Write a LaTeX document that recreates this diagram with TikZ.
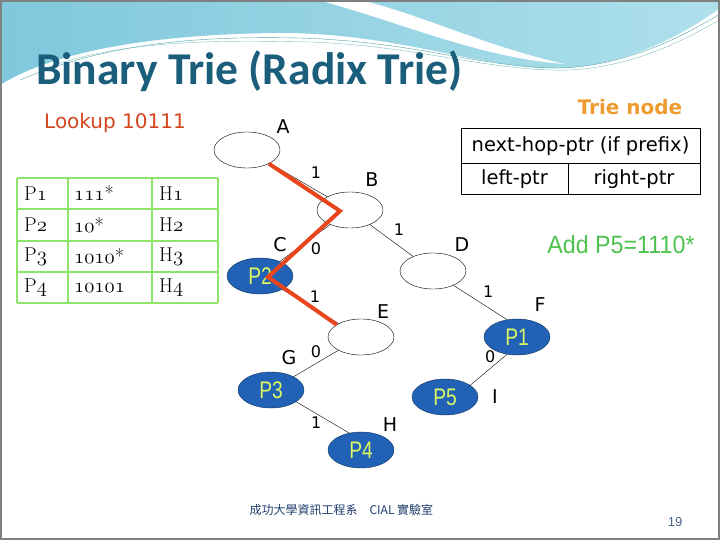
\documentclass[tikz,border=0pt]{standalone}
\usepackage{fontspec}
\usepackage{tikz}
\usetikzlibrary{shapes.geometric}

\newfontfamily\comic{DejaVu Sans}
\newfontfamily\arialf{Liberation Sans}
\newfontfamily\narrowf[FakeStretch=0.8]{Liberation Sans}
\newfontfamily\addf[FakeStretch=0.93]{Liberation Sans}
\newfontfamily\titlef{Carlito}
\newfontfamily\cjk{Noto Sans CJK TC}
\newcommand{\osf}[1]{$\mathnormal{#1}$}

\definecolor{titleblue}{HTML}{1B5E7B}
\definecolor{nodeblue}{HTML}{2262B6}
\definecolor{nodetext}{HTML}{DCF862}
\definecolor{pathred}{HTML}{E8451C}
\definecolor{gridgreen}{HTML}{8CE46C}
\definecolor{trieorange}{HTML}{EE9C30}
\definecolor{addgreen}{HTML}{4EC24E}
\definecolor{lookred}{HTML}{D4461E}
\definecolor{skyA}{HTML}{80C8DC}
\definecolor{skyB}{HTML}{AEE0EC}
\definecolor{footblue}{HTML}{1F3F6E}

\begin{document}
\begin{tikzpicture}[x=1pt,y=-1pt,
    trienode/.style={ellipse,draw,thin,minimum width=66pt,minimum height=36pt,inner sep=0pt},
    prefixnode/.style={trienode,draw=nodeblue!50!black,fill=nodeblue,text=nodetext,
                   font=\narrowf\fontsize{24}{24}\selectfont},
    letter/.style={font=\comic\fontsize{19}{19}\selectfont},
    bit/.style={font=\comic\fontsize{16}{16}\selectfont,inner sep=1pt},
    cell/.style={anchor=west,font=\fontsize{20}{20}\selectfont,inner sep=0pt},
    boxtext/.style={font=\comic\fontsize{19.5}{19.5}\selectfont},
    redpath/.style={pathred,line width=4pt}]

  % slide background
  \useasboundingbox (0,0) rectangle (720,540);
  \fill[white] (0,0) rectangle (720,540);
  \shade[left color=skyA,right color=skyB] (0,0) -- (720,0) -- (720,8)
      .. controls (690,30) and (630,66) .. (560,68)
      .. controls (480,70) and (400,32) .. (275,33)
      .. controls (120,35) and (40,60) .. (0,85) -- cycle;
  \fill[white] (318,0) .. controls (400,22) and (480,58) .. (565,64)
      .. controls (490,48) and (420,14) .. (360,0) -- cycle;
  \draw[teal!70,thin] (20,80) .. controls (110,42) and (200,36) .. (300,38)
      .. controls (420,42) and (480,68) .. (560,68) .. controls (630,66) and (690,32) .. (720,14);
  \draw[teal!50,thin] (40,70) .. controls (120,40) and (210,40) .. (310,42)
      .. controls (420,46) and (490,72) .. (570,70) .. controls (640,66) and (690,36) .. (720,20);
  \draw[gray,line width=1.5pt] (1,1) rectangle (719,539);

  \node[anchor=base west,inner sep=0pt,text=titleblue,
        font=\titlef\bfseries\fontsize{45.5}{45.5}\selectfont] (title) at (36,85) {Binary Trie (Radix Trie)};
  \node[font=\comic\fontsize{20}{20}\selectfont,text=lookred] (lookup) at (115,123) {Lookup 10111};

  % prefix table
  \foreach \y in {178,209,241,272,303}
    \draw[gridgreen,line width=2pt] (17,\y) -- (218,\y);
  \foreach \x in {17,68,152,218}
    \draw[gridgreen,line width=2pt] (\x,178) -- (\x,303);
  \foreach \p/\q/\h [count=\i] in {P\osf{1}/\osf{111}*/H\osf{1},
                                   P\osf{2}/\osf{10}*/H\osf{2},
                                   P\osf{3}/\osf{1010}*/H\osf{3},
                                   P\osf{4}/\osf{10101}/H\osf{4}}{
    \node[cell] (p\i) at (24,162+31.5*\i) {\p};
    \node[cell] (q\i) at (74,162+31.5*\i) {\q};
    \node[cell] (h\i) at (159,162+31.5*\i) {\h};
  }

  % trie node layout
  \node[font=\comic\bfseries\fontsize{20}{20}\selectfont,text=trieorange] (trielabel) at (630,107) {Trie node};
  \draw[thin] (461,128) rectangle (700,194);
  \draw[thin] (461,163) -- (700,163) (568,163) -- (568,194);
  \node[boxtext] (nexthop) at (580.5,146) {next-hop-ptr (if prefix)};
  \node[boxtext] (leftptr) at (514.5,179) {left-ptr};
  \node[boxtext] (rightptr) at (634,179) {right-ptr};

  \node[font=\addf\fontsize{25}{25}\selectfont,text=addgreen] (addp5) at (621,245) {Add P5=1110*};

  % the trie
  \node[trienode]   (A) at (247,150) {};
  \node[trienode]   (B) at (350,210) {};
  \node[prefixnode] (C) at (260,276) {P2};
  \node[trienode]   (D) at (433,271) {};
  \node[trienode]   (E) at (361,337) {};
  \node[prefixnode] (F) at (517,337) {P1};
  \node[prefixnode] (G) at (271,390) {P3};
  \node[prefixnode] (H) at (361,450) {P4};
  \node[prefixnode] (I) at (445,397) {P5};

  \foreach \n/\dx/\dy in {A/36/-23,B/22/-30,C/20/-31,D/29/-26,E/22/-25,
                          F/23/-32,G/18/-32,H/29/-25,I/50/0}
    \node[letter] (l\n) at ([shift={(\dx,\dy)}]\n.center) {\n};

  \path[thin] (A) edge node[bit,xshift=17.5pt,yshift=7pt] {1} (B)
              (B) edge node[bit,xshift=11pt,yshift=-6pt] {0} (C)
              (B) edge node[bit,xshift=7.5pt,yshift=10.5pt] {1} (D)
              (C) edge node[bit,xshift=4.5pt,yshift=9.5pt] {1} (E)
              (D.-35) edge node[bit,xshift=8pt,yshift=10.5pt] {1} (F.120)
              (E) edge node[bit,yshift=11.5pt] {0} (G)
              (F.-120) edge node[bit,xshift=1.5pt,yshift=12.7pt] {0} (I.25)
              (G.-25) edge node[bit,xshift=-6.5pt,yshift=-5pt] {1} (H.125);

  \draw[redpath] (A.-32) -- ([xshift=-10pt,yshift=-1pt]B.center)
                 -- ([xshift=8pt,yshift=-1pt]C.center) -- (E.153);

  % footer
  \node[font=\cjk\fontsize{12}{12}\selectfont,text=footblue,anchor=west] (footer) at (246,510)
       {成功大學資訊工程系\hspace{12pt}CIAL 實驗室};
  \node[font=\arialf\fontsize{13}{13}\selectfont,text=footblue!80] (pagenum) at (675,522) {19};
\end{tikzpicture}
\end{document}
